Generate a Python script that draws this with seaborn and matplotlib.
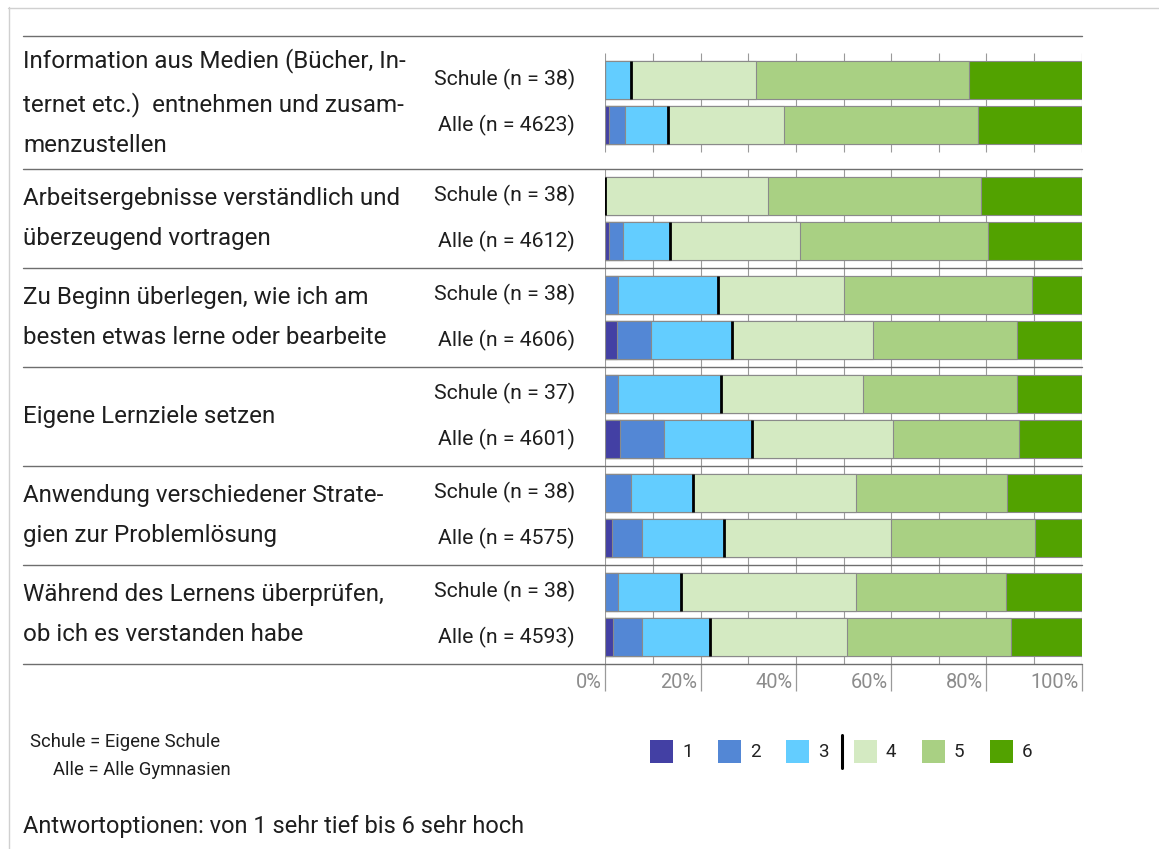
import numpy as np
import pandas as pd
import matplotlib
matplotlib.use("Agg")
import matplotlib.pyplot as plt
from matplotlib.lines import Line2D
from matplotlib.patches import Rectangle
from matplotlib.transforms import blended_transform_factory
import seaborn as sns

# ---------------------------------------------------------------- data
items = [
    "Information aus Medien (Bücher, In-\nternet etc.)  entnehmen und zusam-\nmenzustellen",
    "Arbeitsergebnisse verständlich und\nüberzeugend vortragen",
    "Zu Beginn überlegen, wie ich am\nbesten etwas lerne oder bearbeite",
    "Eigene Lernziele setzen",
    "Anwendung verschiedener Strate-\ngien zur Problemlösung",
    "Während des Lernens überprüfen,\nob ich es verstanden habe",
]
n_schule = [38, 38, 38, 37, 38, 38]
n_alle = [4623, 4612, 4606, 4601, 4575, 4593]

# share (%) per answer option, rows: item1 Schule, item1 Alle, item2 Schule, ...
stufe_1 = [0.0, 0.8, 0.0, 0.8, 0.0, 2.4, 0.0, 3.1, 0.0, 1.4, 0.0, 1.7]
stufe_2 = [0.0, 3.4, 0.0, 3.0, 2.6, 7.2, 2.7, 9.3, 5.3, 6.2, 2.6, 5.9]
stufe_3 = [5.3, 8.9, 0.0, 9.7, 21.1, 16.9, 21.6, 18.3, 13.2, 17.4, 13.2, 14.4]
stufe_4 = [26.3, 24.4, 34.2, 27.3, 26.3, 29.6, 29.7, 29.6, 34.2, 34.9, 36.8, 28.8]
stufe_5 = [44.7, 40.7, 44.7, 39.6, 39.5, 30.4, 32.4, 26.6, 31.6, 30.2, 31.6, 34.4]
stufe_6 = [23.7, 21.8, 21.1, 19.6, 10.5, 13.5, 13.6, 13.1, 15.7, 9.9, 15.8, 14.8]

option_labels = ["1", "2", "3", "4", "5", "6"]
option_colors = ["#4340A4", "#5387D5", "#63CDFF", "#D4EAC2", "#A9D083", "#52A200"]
x_ticks = [0, 20, 40, 60, 80, 100]

# ---------------------------------------------------------------- layout
W, H = 1159, 849
fig = plt.figure(figsize=(W / 100, H / 100), dpi=100)
sns.set_style("white")
plt.rcParams["font.family"] = ["Roboto", "DejaVu Sans"]

def fx(px):
    return px / W

def fy(py):
    return 1 - py / H

top_px, bottom_px = 36, 664
left_px, right_px = 605.3, 1081.7
ax = fig.add_axes([fx(left_px), fy(bottom_px), fx(right_px - left_px),
                   (bottom_px - top_px) / H])

group_heights = [133, 99, 99, 99, 99, 99]
group_tops = np.concatenate([[0], np.cumsum(group_heights)[:-1]])
group_centers = group_tops + np.array(group_heights) / 2
pair_offset = 22.75
bar_h = 38

positions = []
for c in group_centers:
    positions += [c - pair_offset, c + pair_offset]
positions = np.array(positions)

levels = np.vstack([stufe_1, stufe_2, stufe_3, stufe_4, stufe_5, stufe_6])
cum = np.cumsum(levels, axis=0)

df = pd.DataFrame({"pos": positions})
for k in range(6):
    df[f"cum{k + 1}"] = cum[k]

# grid lines every 10 % inside each group's plot area
for c in group_centers:
    ax.vlines(np.arange(0, 101, 10), c - 49.5, c + 49.5,
              color="#9a9a9a", lw=0.8, zorder=0)

# stacked bars: cumulative totals drawn from the outermost option inwards
for k in range(5, -1, -1):
    sns.barplot(data=df, x=f"cum{k + 1}", y="pos", orient="y",
                native_scale=True, color=option_colors[k], saturation=1,
                width=bar_h / (2 * pair_offset), edgecolor="#8a8a8a",
                linewidth=0.8, errorbar=None, ax=ax, zorder=2)

# divider between options 3 and 4
ax.vlines(cum[2], positions - bar_h / 2, positions + bar_h / 2,
          color="black", lw=2.0, zorder=5)

ax.set_xlim(0, 100)
ax.set_ylim(sum(group_heights), 0)
ax.axis("off")

# group separators, spanning the label column too
blend = blended_transform_factory(fig.transFigure, ax.transData)
seps = np.concatenate([[0], np.cumsum(group_heights)])
for s in seps:
    ax.add_line(Line2D([fx(23), fx(right_px)], [s, s], transform=blend,
                       color="#6e6e6e", lw=1.0, clip_on=False, zorder=6))

# bottom scale
y_end = sum(group_heights)
ax.vlines(x_ticks, y_end, y_end + 27, color="#9a9a9a", lw=0.9, clip_on=False)
for v in x_ticks:
    ax.text(v - 0.7, y_end + 18, f"{v}%", ha="right", va="center",
            fontsize=14.4, color="#8c8c8c", clip_on=False)

# item labels and row labels
for i, (lab, c) in enumerate(zip(items, group_centers)):
    ax.text(fx(23), c, lab, transform=blend, ha="left", va="center",
            fontsize=17.4, color="#1e1e1e", linespacing=1.98)
    ax.text(fx(575), c - pair_offset, f"Schule (n = {n_schule[i]})",
            transform=blend, ha="right", va="center", fontsize=15.3,
            color="#1e1e1e")
    ax.text(fx(575), c + pair_offset, f"Alle (n = {n_alle[i]})",
            transform=blend, ha="right", va="center", fontsize=15.3,
            color="#1e1e1e")

# legend
leg_x0, leg_step, sq = 650, 68, 23
for k in range(6):
    x0 = leg_x0 + k * leg_step
    fig.add_artist(Rectangle((fx(x0), fy(763)), fx(sq), sq / H,
                             transform=fig.transFigure,
                             facecolor=option_colors[k], edgecolor="none"))
    fig.text(fx(x0 + 32), fy(752), option_labels[k], ha="left", va="center",
             fontsize=13.5, color="#222222")
fig.add_artist(Line2D([fx(842), fx(842)], [fy(735), fy(768)],
                      transform=fig.transFigure, color="black", lw=2.2))

# notes
fig.text(fx(30), fy(742), "Schule = Eigene Schule", ha="left", va="center",
         fontsize=13.3, color="#1e1e1e")
fig.text(fx(53), fy(770), "Alle = Alle Gymnasien", ha="left", va="center",
         fontsize=13.3, color="#1e1e1e")
fig.text(fx(23), fy(827), "Antwortoptionen: von 1 sehr tief bis 6 sehr hoch",
         ha="left", va="center", fontsize=17.0, color="#1e1e1e")

# outer frame (top and left edges)
fig.add_artist(Line2D([fx(8), 1], [fy(7.5), fy(7.5)],
                      transform=fig.transFigure, color="#d0d0d0", lw=1.0))
fig.add_artist(Line2D([fx(8.5), fx(8.5)], [fy(7), 0],
                      transform=fig.transFigure, color="#d0d0d0", lw=1.0))

fig.savefig("out.png", dpi=100)
